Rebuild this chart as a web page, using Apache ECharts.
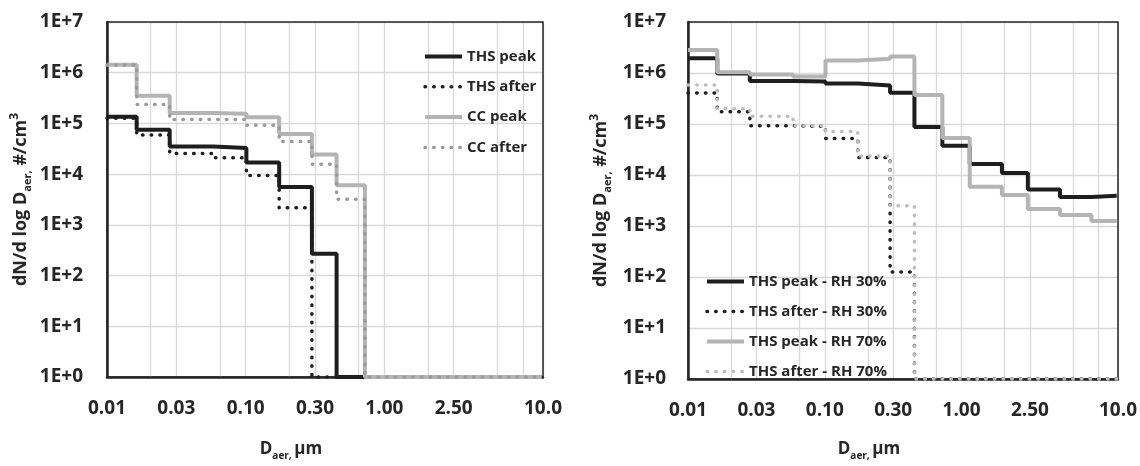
<!DOCTYPE html>
<html>
<head>
<meta charset="utf-8">
<title>dN/dlogD</title>
<script src="https://cdn.jsdelivr.net/npm/echarts@6/dist/echarts.min.js"></script>
<style>
    html, body { margin: 0; padding: 0; background: #fff; }
    #chart { width: 1140px; height: 466px; }
</style>
</head>
<body>
<div id="chart"></div>
<script>
// impactor stage edges, um
var edges = [0.01, 0.016, 0.027, 0.054, 0.091, 0.153, 0.257, 0.38, 0.595, 0.924, 1.55, 2.35, 3.94, 6.53, 9.8];
var xTickLabels = ['0.01', '0.03', '0.10', '0.30', '1.00', '2.50', ''];
var xEndLabel = '10.0';
var xMin = 0.01, xMax = 10;

// left panel
var thsPeak  = [1.36e5, 7.5e4, 3.5e4, 3.27e4, 1.69e4, 5.6e3, 270, 1, 1, 1, 1, 1, 1, 1];
var thsAfter = [1.26e5, 5.9e4, 2.55e4, 2.1e4, 9.4e3, 2.17e3, 1, 1, 1, 1, 1, 1, 1, 1];
var ccPeak   = [1.44e6, 3.5e5, 1.6e5, 1.55e5, 1.32e5, 6.2e4, 2.44e4, 6.05e3, 1, 1, 1, 1, 1, 1];
var ccAfter  = [1.42e6, 2.37e5, 1.19e5, 1.19e5, 9.2e4, 4.4e4, 1.57e4, 3.2e3, 1, 1, 1, 1, 1, 1];

// right panel
var peak30  = [1.95e6, 9.8e5, 6.96e5, 6.8e5, 6.2e5, 5.7e5, 4.1e5, 8.7e4, 3.74e4, 1.64e4, 1.09e4, 5.2e3, 3.7e3, 3.9e3];
var after30 = [4.05e5, 1.73e5, 9.2e4, 9.0e4, 5.2e4, 2.2e4, 125, 1, 1, 1, 1, 1, 1, 1];
var peak70  = [2.82e6, 1.03e6, 9.36e5, 8.5e5, 1.75e6, 1.9e6, 2.1e6, 3.7e5, 5.3e4, 5.87e3, 4.07e3, 2.15e3, 1.65e3, 1.25e3];
var after70 = [5.8e5, 2.0e5, 1.42e5, 9.2e4, 7.1e4, 2.37e4, 2.5e3, 1, 1, 1, 1, 1, 1, 1];

var FONT = 'Open Sans';
var TXT = '#262626';
var GRIDC = '#d9d9d9';
var BLACK = '#1e1e1e';

// x axis is log base 3 starting at 0.01 (Excel style), drawn on a value axis
function lg3(d) { return Math.log(d / xMin) / Math.log(3); }
var uMax = lg3(xMax);

// minor gridlines sit at 2x each major (0.02, 0.06, ...)
var minorPos = [];
for (var k = 0; k < 6; k++) minorPos.push(lg3(2 * xMin * Math.pow(3, k)));

function steps(vals) {
    var pts = [];
    for (var i = 0; i < vals.length; i++) {
        pts.push([lg3(edges[i]), vals[i]]);
        pts.push([lg3(edges[i + 1]), vals[i]]);
    }
    return pts;
}

function mainX(gi, nameGap) {
    return {
        type: 'value', gridIndex: gi, min: 0, max: uMax, interval: 1,
        axisLine: { show: true, onZero: false, lineStyle: { color: TXT, width: 2.5 } },
        axisTick: { show: false },
        axisLabel: {
            margin: 22, fontSize: 19, fontWeight: 'bold', color: TXT, fontFamily: FONT,
            showMinLabel: true, showMaxLabel: true,
            formatter: function (v) {
                if (Math.abs(v - uMax) < 1e-6) return xEndLabel;
                return xTickLabels[Math.round(v)] || '';
            }
        },
        splitLine: { show: true, lineStyle: { color: GRIDC, width: 1.3 } },
        name: 'D{sub|aer, }µm', nameLocation: 'middle', nameGap: nameGap,
        nameTextStyle: {
            fontSize: 17, fontWeight: 'bold', color: TXT, fontFamily: FONT, lineHeight: 24,
            padding: [0, 68, 0, 0],
            rich: { sub: { fontSize: 10, fontWeight: 'bold', color: TXT, fontFamily: FONT, verticalAlign: 'bottom', lineHeight: 12 } }
        }
    };
}

function logY(gi, margin, nameGap) {
    return {
        type: 'log', logBase: 10, gridIndex: gi, min: 1, max: 1e7, splitNumber: 7,
        axisLine: { show: true, lineStyle: { color: TXT, width: 2.5 } },
        axisTick: { show: false },
        axisLabel: {
            margin: margin, fontSize: 19, fontWeight: 'bold', color: TXT, fontFamily: FONT,
            formatter: function (v) { return '1E+' + Math.round(Math.log10(v)); }
        },
        splitLine: { show: true, lineStyle: { color: GRIDC, width: 1.3 } },
        name: 'dN/d log D{sub|aer,} #/cm{sup|3}', nameLocation: 'middle', nameGap: nameGap,
        nameTextStyle: {
            fontSize: 18, fontWeight: 'bold', color: TXT, fontFamily: FONT, lineHeight: 24,
            rich: {
                sub: { fontSize: 11, fontWeight: 'bold', color: TXT, fontFamily: FONT, verticalAlign: 'bottom', lineHeight: 12 },
                sup: { fontSize: 12, fontWeight: 'bold', color: TXT, fontFamily: FONT, verticalAlign: 'top', lineHeight: 12 }
            }
        }
    };
}

// empty helper series carrying the minor vertical gridlines
function minorGrid(gi) {
    return {
        type: 'line', xAxisIndex: gi, yAxisIndex: gi, data: [], z: 1, silent: true,
        markLine: {
            silent: true, z: 1, symbol: 'none', animation: false,
            label: { show: false },
            lineStyle: { color: GRIDC, width: 1.3, type: 'solid' },
            emphasis: { disabled: true },
            data: minorPos.map(function (u) { return { xAxis: u }; })
        }
    };
}

function line(name, vals, gi, color, width, dotted) {
    return {
        name: name, type: 'line', xAxisIndex: gi, yAxisIndex: gi,
        data: steps(vals), symbol: 'none', clip: false, silent: true, z: 3,
        lineStyle: dotted
            ? { color: color, width: width, type: [0.5, 8.2], cap: 'round' }
            : { color: color, width: width },
        itemStyle: { color: color }
    };
}

var legendText = { fontSize: 15, fontWeight: 'bold', color: TXT, fontFamily: FONT };
var legendItem = { color: 'transparent', borderColor: 'transparent', borderWidth: 0, opacity: 0 };
var legendLine = { width: 'inherit', type: 'inherit', cap: 'inherit' };

var option = {
    animation: false,
    backgroundColor: '#fff',
    grid: [
        { left: 107, top: 22, width: 436, height: 365, show: true, z: 2, borderColor: TXT, borderWidth: 1.5 },
        { left: 688, top: 22, width: 432, height: 362, show: true, z: 2, borderColor: TXT, borderWidth: 1.5 }
    ],
    xAxis: [mainX(0, 60), mainX(1, 58)],
    yAxis: [logY(0, 24, 74), logY(1, 22, 75)],
    legend: [
        {
            data: ['THS peak', 'THS after', 'CC peak', 'CC after'],
            orient: 'vertical', left: 418, top: 44, itemWidth: 37, itemHeight: 14, itemGap: 15.3,
            selectedMode: false, textStyle: legendText, itemStyle: legendItem, lineStyle: legendLine
        },
        {
            data: ['THS peak - RH 30%', 'THS after - RH 30%', 'THS peak - RH 70%', 'THS after - RH 70%'],
            orient: 'vertical', left: 700, top: 269, itemWidth: 37, itemHeight: 14, itemGap: 15,
            selectedMode: false, textStyle: legendText, itemStyle: legendItem, lineStyle: legendLine
        }
    ],
    series: [
        minorGrid(0),
        minorGrid(1),
        line('THS peak', thsPeak, 0, BLACK, 4, false),
        line('THS after', thsAfter, 0, BLACK, 3.5, true),
        line('CC peak', ccPeak, 0, '#b4b4b4', 4, false),
        line('CC after', ccAfter, 0, '#9a9a9a', 3.5, true),
        line('THS peak - RH 30%', peak30, 1, BLACK, 4, false),
        line('THS after - RH 30%', after30, 1, BLACK, 3.5, true),
        line('THS peak - RH 70%', peak70, 1, '#b4b4b4', 4, false),
        line('THS after - RH 70%', after70, 1, '#bdbdbd', 3.5, true)
    ]
};

var myChart = echarts.init(document.getElementById('chart'));
myChart.setOption(option);
</script>
</body>
</html>
